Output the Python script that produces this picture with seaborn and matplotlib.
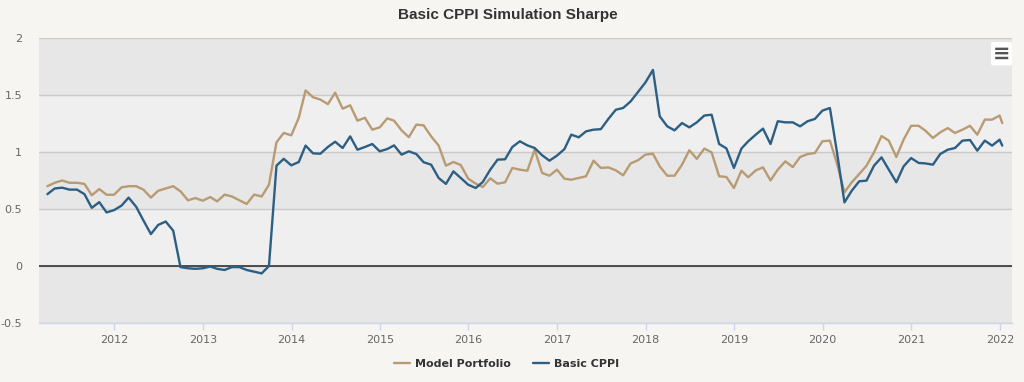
import numpy as np
import pandas as pd
import matplotlib
matplotlib.use("Agg")
import matplotlib.pyplot as plt
import seaborn as sns
from matplotlib.lines import Line2D

# ---------------- data ----------------
dates = list(pd.date_range("2011-03-31", "2021-12-31", freq="ME")) + [pd.Timestamp("2022-01-11")]

model_portfolio = [
    0.70, 0.73, 0.75, 0.73, 0.73, 0.72, 0.62, 0.675, 0.625, 0.625,
    0.69, 0.70, 0.70, 0.67, 0.60, 0.66, 0.68, 0.70, 0.655, 0.576,
    0.596, 0.573, 0.605, 0.567, 0.626, 0.61, 0.576, 0.544, 0.626, 0.61,
    0.713, 1.085, 1.167, 1.146, 1.30, 1.54, 1.48, 1.46, 1.42, 1.52,
    1.38, 1.41, 1.275, 1.30, 1.196, 1.216, 1.295, 1.275, 1.19, 1.13,
    1.24, 1.234, 1.137, 1.056, 0.88, 0.912, 0.886, 0.766, 0.722, 0.693,
    0.769, 0.722, 0.734, 0.86, 0.845, 0.836, 1.02, 0.816, 0.792, 0.845,
    0.766, 0.757, 0.772, 0.787, 0.924, 0.86, 0.865, 0.839, 0.795, 0.90,
    0.927, 0.977, 0.985, 0.874, 0.792, 0.792, 0.889, 1.015, 0.94, 1.03,
    0.997, 0.787, 0.781, 0.684, 0.836, 0.778, 0.839, 0.865, 0.751, 0.845,
    0.918, 0.868, 0.956, 0.982, 0.991, 1.094, 1.10, 0.90, 0.646, 0.734,
    0.807, 0.88, 0.997, 1.14, 1.10, 0.956, 1.108, 1.23, 1.23, 1.187,
    1.123, 1.172, 1.21, 1.167, 1.196, 1.23, 1.152, 1.284, 1.284, 1.32,
    1.254,
]

basic_cppi = [
    0.63, 0.68, 0.687, 0.67, 0.67, 0.63, 0.51, 0.56, 0.47, 0.49,
    0.53, 0.60, 0.52, 0.40, 0.28, 0.36, 0.39, 0.31, -0.01, -0.02,
    -0.025, -0.02, -0.005, -0.025, -0.035, -0.01, -0.01, -0.035, -0.05, -0.065,
    0.0, 0.88, 0.94, 0.883, 0.912, 1.056, 0.988, 0.985, 1.044, 1.09,
    1.035, 1.137, 1.02, 1.044, 1.07, 1.006, 1.026, 1.058, 0.977, 1.006,
    0.982, 0.91, 0.889, 0.772, 0.72, 0.83, 0.772, 0.713, 0.684, 0.737,
    0.845, 0.933, 0.936, 1.044, 1.094, 1.058, 1.035, 0.971, 0.924, 0.968,
    1.026, 1.152, 1.129, 1.181, 1.196, 1.20, 1.29, 1.371, 1.386, 1.444,
    1.526, 1.61, 1.72, 1.313, 1.225, 1.19, 1.254, 1.216, 1.26, 1.32,
    1.327, 1.07, 1.032, 0.86, 1.03, 1.094, 1.152, 1.205, 1.07, 1.27,
    1.26, 1.26, 1.225, 1.27, 1.29, 1.363, 1.386, 1.0, 0.558, 0.66,
    0.743, 0.749, 0.88, 0.953, 0.845, 0.734, 0.874, 0.947, 0.904, 0.90,
    0.889, 0.982, 1.02, 1.035, 1.10, 1.105, 1.012, 1.10, 1.056, 1.108,
    1.056,
]

series_names = ["Model Portfolio", "Basic CPPI"]
series_colors = ["#b89b72", "#2c5f83"]
y_ticks = [-0.5, 0, 0.5, 1, 1.5, 2]
y_tick_labels = ["-0.5", "0", "0.5", "1", "1.5", "2"]
x_tick_years = list(range(2012, 2023))
title = "Basic CPPI Simulation Sharpe"

df = pd.concat([
    pd.DataFrame({"date": dates, "value": model_portfolio, "series": series_names[0]}),
    pd.DataFrame({"date": dates, "value": basic_cppi, "series": series_names[1]}),
])

# ---------------- plot ----------------
sns.set_theme(style="white")
plt.rcParams["font.family"] = ["DejaVu Sans"]

bg = "#f6f5f1"
fig = plt.figure(figsize=(10.24, 3.82), dpi=100, facecolor=bg)
ax = fig.add_axes([0.038, 0.1545, 0.950, 0.746])
ax.set_facecolor("#efefef")

# alternating bands
for k in range(len(y_ticks) - 1):
    if k % 2 == 0:
        ax.axhspan(y_ticks[k], y_ticks[k + 1], color="#e7e7e7", zorder=0, lw=0)

sns.lineplot(data=df, x="date", y="value", hue="series", palette=series_colors,
             hue_order=series_names, linewidth=1.7, ax=ax, legend=False, zorder=3)

ax.set_ylim(-0.5, 2)
ax.set_xlim(pd.Timestamp("2011-02-24"), pd.Timestamp("2022-02-19"))

ax.set_yticks(y_ticks)
ax.set_yticklabels(y_tick_labels)
ax.yaxis.grid(True, color="#cacaca", lw=1, zorder=1)
ax.xaxis.grid(False)
ax.axhline(0, color="#333333", lw=1.2, zorder=2)

ax.set_xticks([pd.Timestamp(f"{y}-01-01") for y in x_tick_years])
ax.set_xticklabels([str(y) for y in x_tick_years])

ax.tick_params(axis="y", length=0, pad=12, labelsize=8, labelcolor="#666666")
ax.tick_params(axis="x", length=5, width=1, color="#ccd6eb", pad=4,
               labelsize=8, labelcolor="#666666", direction="out", bottom=True)

for s in ["top", "left", "right"]:
    ax.spines[s].set_visible(False)
ax.spines["bottom"].set_color("#ccd6eb")
ax.spines["bottom"].set_linewidth(1)

ax.set_xlabel("")
ax.set_ylabel("")

fig.text(0.496, 0.962, title, ha="center", va="center", fontsize=11,
         fontweight="bold", color="#333333", family=["Liberation Sans", "DejaVu Sans"])

# legend
handles = [Line2D([0], [0], color=c, lw=1.7) for c in series_colors]
fig.legend(handles, series_names, loc="center", bbox_to_anchor=(0.495, 0.047), ncol=2,
           frameon=False, handlelength=1.4, handletextpad=0.5,
           columnspacing=2.0, labelcolor="#333333",
           prop={"weight": "bold", "size": 8})

# menu icon
ax.text(0.9895, 0.945, "\u2261", transform=ax.transAxes, ha="center", va="center",
        fontsize=15, fontweight="bold", color="#555555", zorder=5,
        bbox=dict(boxstyle="round,pad=0.08", fc="white", ec="none"))

fig.savefig("out.png", dpi=100, facecolor=bg)
